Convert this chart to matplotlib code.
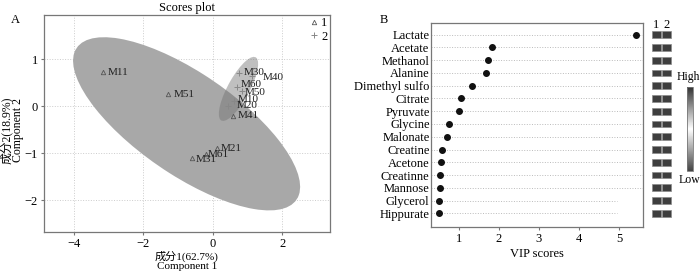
import numpy as np
import matplotlib
matplotlib.use("Agg")
import matplotlib.pyplot as plt
from matplotlib.patches import Ellipse, Rectangle
from matplotlib.colors import LinearSegmentedColormap
from matplotlib.colorbar import ColorbarBase

plt.rcParams['font.family'] = ['Liberation Serif', 'Noto Sans CJK SC']
plt.rcParams['axes.unicode_minus'] = True

# ---- panel A data (scores) ----
names_1 = ['M11', 'M51', 'M41', 'M21', 'M61', 'M31']
x_1 = [-3.15, -1.28, 0.59, 0.12, -0.19, -0.60]
y_1 = [0.72, 0.25, -0.21, -0.90, -1.01, -1.11]

names_2 = ['M30', 'M40', 'M60', 'M50', 'M10', 'M20']
x_2 = [0.77, 1.12, 0.69, 0.84, 0.60, 0.44]
y_2 = [0.71, 0.64, 0.40, 0.33, 0.11, 0.01]

# label offsets in points (layout only)
offs = {'M11': (3, 0), 'M51': (4, 0), 'M41': (3, 0), 'M21': (3, 0),
        'M61': (1, -1), 'M31': (3, -1), 'M30': (3, 0), 'M40': (8, -1),
        'M60': (3, 2), 'M50': (2, -1), 'M10': (3, 1), 'M20': (6, 0)}

# ---- panel B data (VIP) ----
metabolites = ['Lactate', 'Acetate', 'Methanol', 'Alanine', 'Dimethyl sulfo',
               'Citrate', 'Pyruvate', 'Glycine', 'Malonate', 'Creatine',
               'Acetone', 'Creatinne', 'Mannose', 'Glycerol', 'Hippurate']
vip = [5.42, 1.83, 1.73, 1.68, 1.33, 1.05, 1.01, 0.74, 0.71, 0.57,
       0.55, 0.53, 0.52, 0.51, 0.51]
heat_1 = [0.97] * 15
heat_2 = [0.97] * 15
grid_end = [5.61] * 13 + [4.94, 4.94]


def conf_ellipse(xs, ys, **kw):
    pts = np.column_stack([xs, ys])
    cov = np.cov(pts, rowvar=False)
    vals, vecs = np.linalg.eigh(cov)
    k = 5.991  # chi2, 2 dof, 95%
    ang = np.degrees(np.arctan2(vecs[1, 1], vecs[0, 1]))
    return Ellipse(pts.mean(axis=0), 2 * np.sqrt(k * vals[1]),
                   2 * np.sqrt(k * vals[0]), angle=ang, **kw)


fig = plt.figure(figsize=(7, 2.73), dpi=100)

# ================= A =================
ax = fig.add_axes([44 / 700, 1 - 232 / 273, 286 / 700, 217 / 273])
ax.add_patch(conf_ellipse(x_1, y_1, facecolor='#a8a8a8', edgecolor='none', zorder=1))
ax.add_patch(conf_ellipse(x_2, y_2, facecolor='#727272', alpha=0.45,
                          edgecolor='none', zorder=1.5))
ax.plot(x_1, y_1, ls='none', marker='^', ms=3.2, mfc='none', mec='#555555',
        mew=0.6, label='1', zorder=3)
ax.plot(x_2, y_2, ls='none', marker='+', ms=4.5, color='#888888',
        mew=0.7, label='2', zorder=3)
for n, xx, yy in zip(names_1 + names_2, x_1 + x_2, y_1 + y_2):
    ax.annotate(n, (xx, yy), xytext=offs[n], textcoords='offset points',
                ha='left', va='center', fontsize=8, color='#222222', zorder=4)

ax.set_xlim(-4.86, 3.38)
ax.set_ylim(-2.68, 1.94)
ax.set_xticks([-4, -2, 0, 2])
ax.set_yticks([-2, -1, 0, 1])
ax.set_axisbelow(True)
ax.grid(True, ls=':', lw=0.7, color='#cccccc')
for s in ax.spines.values():
    s.set_color('#777777')
    s.set_linewidth(0.9)
ax.tick_params(labelsize=9, length=2.5, color='#777777', pad=2)
ax.set_title('Scores plot', fontsize=9, pad=3)
ax.set_xlabel('成分1(62.7%)\nComponent 1', fontsize=8, linespacing=0.9)
ax.set_ylabel('成分2(18.9%)\nComponent 2', fontsize=8.5, linespacing=0.9)
ax.xaxis.set_label_coords(0.5, -0.088)
ax.yaxis.set_label_coords(-0.07, 0.47)
leg = ax.legend(loc='upper right', frameon=False, fontsize=9, handlelength=0.6,
                handletextpad=0.3, borderaxespad=0.1, labelspacing=0.1,
                borderpad=0.1)
fig.text(15 / 700, 1 - 20 / 273, 'A', fontsize=9, ha='center', va='center')

# ================= B =================
bx = fig.add_axes([431 / 700, 1 - 226.7 / 273, 212.3 / 700, 204 / 273])
pos = np.arange(len(metabolites))[::-1] + 1
bx.hlines(pos, 0.3, grid_end, colors='#bbbbbb', linestyles=':', lw=0.7, zorder=1)
bx.plot(vip, pos, ls='none', marker='o', ms=4, color='#111111', zorder=3)
bx.set_xlim(0.3, 5.61)
bx.set_ylim(-0.05, 15.94)
bx.set_yticks(pos)
bx.set_yticklabels(metabolites)
bx.set_xticks([1, 2, 3, 4, 5])
for s in bx.spines.values():
    s.set_color('#777777')
    s.set_linewidth(0.9)
bx.tick_params(axis='y', length=0, labelsize=9, pad=1)
bx.tick_params(axis='x', length=2.5, color='#777777', labelsize=9, pad=2)
bx.set_xlabel('VIP scores', fontsize=9, labelpad=2)
fig.text(384 / 700, 1 - 20 / 273, 'B', fontsize=9, ha='center', va='center')

# heat cells
cmap = LinearSegmentedColormap.from_list('hl', ['#454545', '#ffffff', '#333333'])
hx = fig.add_axes([651 / 700, 1 - 226.7 / 273, 21 / 700, 204 / 273])
hx.set_xlim(0.5, 2.5)
hx.set_ylim(-0.05, 15.94)
hx.axis('off')
for col, vals in enumerate([heat_1, heat_2], start=1):
    for p, v in zip(pos, vals):
        hx.add_patch(Rectangle((col - 0.45, p - 0.27), 0.9, 0.54,
                               facecolor=cmap(v), edgecolor='#8a8a8a', lw=0.5))
    hx.text(col, 15.75, str(col), ha='center', va='center', fontsize=9)

cax = fig.add_axes([686.7 / 700, 1 - 170.7 / 273, 6.6 / 700, 83.4 / 273])
cb = ColorbarBase(cax, cmap=cmap, orientation='vertical')
cb.set_ticks([])
cb.outline.set_edgecolor('#777777')
cb.outline.set_linewidth(0.6)
fig.text(677 / 700, 1 - 77 / 273, 'High', fontsize=8.5, ha='left', va='center')
fig.text(679 / 700, 1 - 180 / 273, 'Low', fontsize=8.5, ha='left', va='center')

fig.savefig('out.png', dpi=100)
